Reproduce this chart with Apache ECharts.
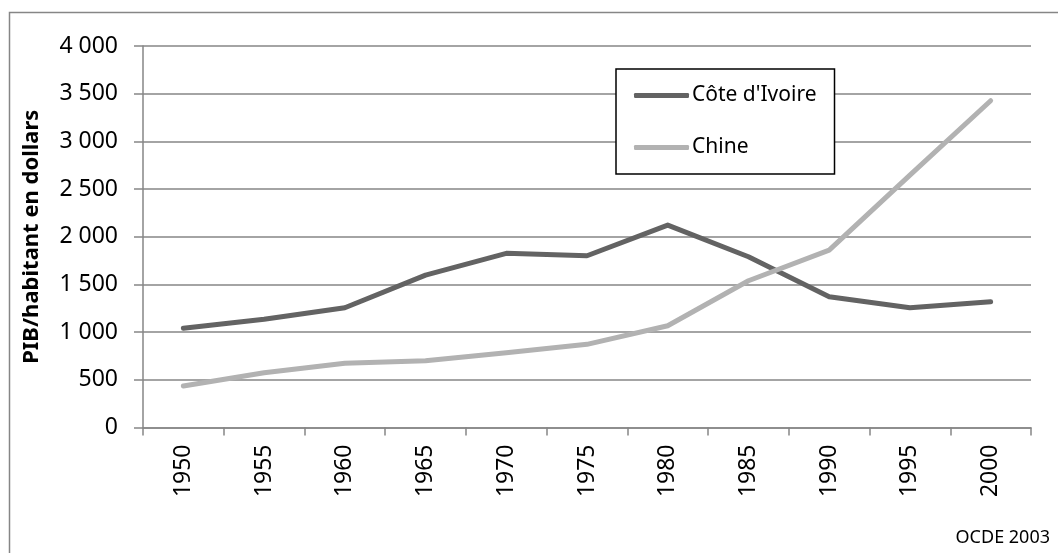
<!DOCTYPE html>
<html>
<head>
<meta charset="utf-8">
<script src="https://cdn.jsdelivr.net/npm/echarts@6/dist/echarts.min.js"></script>
<style>
html,body{margin:0;padding:0;background:#fff;}
#chart{width:1058px;height:553px;}
</style>
</head>
<body>
<div id="chart"></div>
<script>
const years = ['1950','1955','1960','1965','1970','1975','1980','1985','1990','1995','2000'];
const coteIvoire = [1040, 1134, 1256, 1598, 1826, 1801, 2122, 1790, 1371, 1256, 1318];
const chine = [435, 574, 673, 700, 784, 872, 1067, 1539, 1860, 2646, 3426];
const seriesNames = ['Côte d\'Ivoire', 'Chine'];
const yAxisName = 'PIB/habitant en dollars';
const sourceText = 'OCDE 2003';

const FONT = '"Noto Sans", sans-serif';
const axisGray = '#868686';
const darkGray = '#636363';
const lightGray = '#b2b2b2';

const chart = echarts.init(document.getElementById('chart'));
chart.setOption({
  animation: false,
  backgroundColor: '#ffffff',
  textStyle: { fontFamily: FONT },
  grid: { left: 143, right: 27, top: 46, bottom: 125.5, containLabel: false },
  graphic: [
    { type: 'polyline', silent: true,
      shape: { points: [[9.5, 600], [9.5, 12.5], [1100, 12.5]] },
      style: { stroke: axisGray, lineWidth: 1.5, fill: null } },
    { type: 'text', right: 8, top: 529, silent: true,
      style: { text: sourceText, font: '18px ' + FONT, fill: '#000' } }
  ],
  legend: {
    orient: 'vertical',
    left: 616, top: 69,
    padding: [16, 18, 16, 18],
    itemWidth: 55, itemHeight: 5, itemGap: 31,
    icon: 'roundRect',
    borderColor: '#000', borderWidth: 1.5,
    backgroundColor: '#fff',
    textStyle: { fontFamily: FONT, fontSize: 21, lineHeight: 20, color: '#000', padding: [0, 0, 0, -2] },
    data: seriesNames
  },
  xAxis: {
    type: 'category',
    data: years,
    boundaryGap: true,
    axisLine: { lineStyle: { color: axisGray, width: 1.5 } },
    axisTick: { show: true, length: 8, lineStyle: { color: axisGray, width: 1.5 } },
    axisLabel: { rotate: 90, margin: 17, fontSize: 23, color: '#000', fontFamily: FONT },
    splitLine: { show: false }
  },
  yAxis: {
    type: 'value',
    min: 0, max: 4000, interval: 500,
    name: yAxisName,
    nameLocation: 'middle',
    nameRotate: 90,
    nameGap: 100,
    nameTextStyle: { fontFamily: FONT, fontSize: 22, fontWeight: 'bold', color: '#000' },
    axisLine: { show: true, lineStyle: { color: axisGray, width: 1.5 } },
    axisTick: { show: true, length: 9, lineStyle: { color: axisGray, width: 1.5 } },
    axisLabel: {
      margin: 25, fontSize: 23, color: '#000', fontFamily: FONT,
      formatter: v => v >= 1000 ? Math.floor(v / 1000) + ' ' + String(v % 1000).padStart(3, '0') : String(v)
    },
    splitLine: { show: true, lineStyle: { color: axisGray, width: 1.5 } }
  },
  series: [
    { name: seriesNames[0], type: 'line', data: coteIvoire, symbol: 'none', smooth: false,
      itemStyle: { color: darkGray },
      lineStyle: { width: 5, color: darkGray, cap: 'round', join: 'round' } },
    { name: seriesNames[1], type: 'line', data: chine, symbol: 'none', smooth: false,
      itemStyle: { color: lightGray },
      lineStyle: { width: 5, color: lightGray, cap: 'round', join: 'round' } }
  ]
});
</script>
</body>
</html>
